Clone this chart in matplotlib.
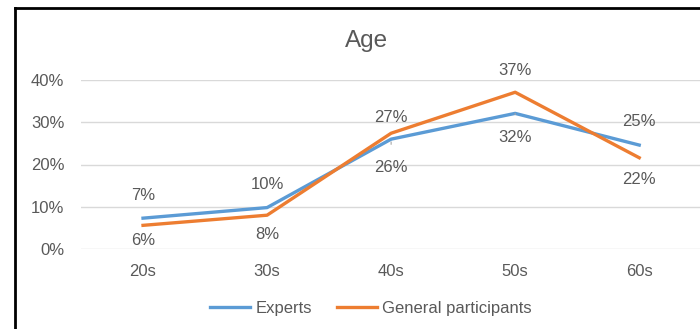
import matplotlib.pyplot as plt
from matplotlib.lines import Line2D

plt.rcParams['font.family'] = ['Liberation Sans', 'DejaVu Sans']

age_groups = ['20s', '30s', '40s', '50s', '60s']
experts = [7.3, 9.8, 26.0, 32.1, 24.6]
general = [5.6, 8.0, 27.4, 37.1, 21.6]

blue = '#5B9BD5'
orange = '#ED7D31'
text_col = '#595959'

fig = plt.figure(figsize=(7, 3.29), dpi=100)
ax = fig.add_axes([81 / 700, 1 - 249 / 329, 619 / 700, 169 / 329])

x = range(len(age_groups))
ax.plot(x, experts, color=blue, lw=2.4, label='Experts', solid_joinstyle='round')
ax.plot(x, general, color=orange, lw=2.4, label='General participants',
        solid_joinstyle='round')


def add_labels(values, offsets, leaders):
    # offsets are vertical pixel shifts of each label from its point
    for i, (v, dy) in enumerate(zip(values, offsets)):
        arrow = None
        if leaders[i]:
            arrow = dict(arrowstyle='-', color='#A6A6A6', lw=0.8,
                         shrinkA=9, shrinkB=2)
        ax.annotate(f'{v:.0f}%', (i, v), textcoords='offset pixels',
                    xytext=(0, dy), ha='center', va='center', fontsize=12,
                    color=text_col, arrowprops=arrow)


add_labels(experts, [23, 23, -28, -24, 24], [False, False, True, True, False])
add_labels(general, [-15, -19, 16, 22, -22], [False] * 5)

ax.set_xlim(-0.5, 4.49)
ax.set_ylim(0, 40)
ax.set_yticks([0, 10, 20, 30, 40])
ax.set_yticklabels([f'{t}%' for t in [0, 10, 20, 30, 40]])
ax.set_xticks(list(x))
ax.set_xticklabels(age_groups)
ax.tick_params(length=0, labelsize=12, colors=text_col, pad=11)
ax.tick_params(axis='y', pad=12)
ax.grid(axis='y', color='#D9D9D9', lw=1)
ax.set_axisbelow(True)
for sp in ax.spines.values():
    sp.set_visible(False)

fig.text(367 / 700, 1 - 41 / 329, 'Age', ha='center', va='center',
         fontsize=17.5, color=text_col)

fig.legend(loc='center', bbox_to_anchor=(371 / 700, 1 - 308 / 329), ncol=2,
           frameon=False, fontsize=12, labelcolor=text_col, handlelength=2.4,
           columnspacing=1.5, handletextpad=0.3)

# chart frame (left and top edges)
fig.add_artist(Line2D([15 / 700, 15 / 700], [0, 1 - 8 / 329], color='black',
                      lw=2, transform=fig.transFigure))
fig.add_artist(Line2D([15 / 700, 1], [1 - 8 / 329, 1 - 8 / 329], color='black',
                      lw=2, transform=fig.transFigure))

fig.savefig('out.png', dpi=100)
